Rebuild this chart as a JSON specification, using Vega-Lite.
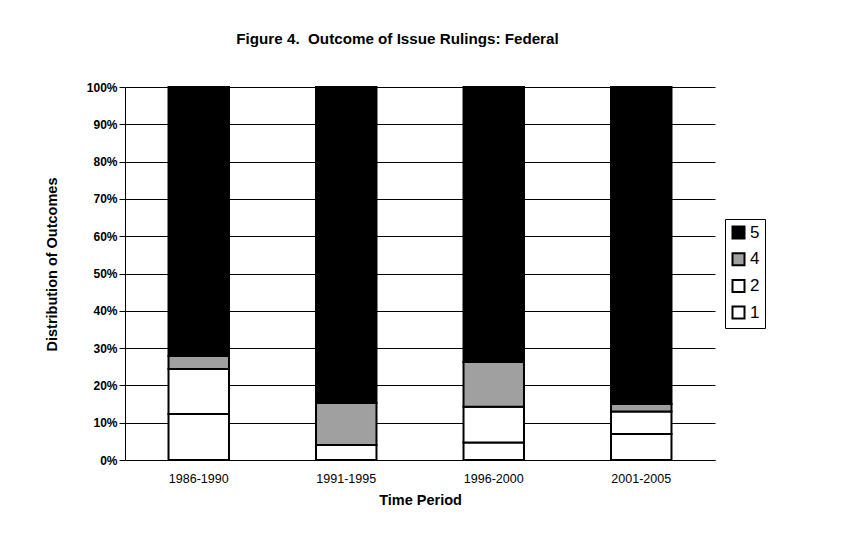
{
  "$schema": "https://vega.github.io/schema/vega-lite/v6.json",
  "width": 590,
  "height": 373,
  "autosize": "none",
  "padding": {"left": 125, "top": 87, "right": 153, "bottom": 74},
  "background": "white",
  "title": {
    "text": "Figure 4.\u00a0 Outcome of Issue Rulings: Federal",
    "anchor": "start",
    "dx": 192,
    "offset": 34,
    "font": "Liberation Sans",
    "fontSize": 15.2,
    "fontWeight": "bold",
    "color": "black"
  },
  "config": {
    "view": {"stroke": null},
    "font": "Liberation Sans"
  },
  "data": {
    "values": [
      {"period": "1986-1990", "outcome": "1", "value": 12.3},
      {"period": "1986-1990", "outcome": "2", "value": 12.1},
      {"period": "1986-1990", "outcome": "4", "value": 3.5},
      {"period": "1986-1990", "outcome": "5", "value": 72.1},
      {"period": "1991-1995", "outcome": "1", "value": 4.0},
      {"period": "1991-1995", "outcome": "2", "value": 0},
      {"period": "1991-1995", "outcome": "4", "value": 11.3},
      {"period": "1991-1995", "outcome": "5", "value": 84.7},
      {"period": "1996-2000", "outcome": "1", "value": 4.7},
      {"period": "1996-2000", "outcome": "2", "value": 9.6},
      {"period": "1996-2000", "outcome": "4", "value": 12.0},
      {"period": "1996-2000", "outcome": "5", "value": 73.7},
      {"period": "2001-2005", "outcome": "1", "value": 7.0},
      {"period": "2001-2005", "outcome": "2", "value": 6.0},
      {"period": "2001-2005", "outcome": "4", "value": 2.0},
      {"period": "2001-2005", "outcome": "5", "value": 85.0}
    ]
  },
  "mark": {"type": "bar", "stroke": "black", "strokeWidth": 2},
  "encoding": {
    "x": {
      "field": "period",
      "type": "nominal",
      "scale": {"paddingInner": 0.59, "paddingOuter": 0.295},
      "axis": {
        "title": "Time Period",
        "titleFont": "Liberation Sans",
        "titleFontSize": 14.5,
        "titleFontWeight": "bold",
        "titleColor": "black",
        "titlePadding": 9,
        "labelAngle": 0,
        "labelFont": "Liberation Sans",
        "labelFontSize": 12.5,
        "labelColor": "black",
        "labelPadding": 12,
        "ticks": false,
        "domain": true,
        "domainColor": "black"
      }
    },
    "y": {
      "field": "value",
      "type": "quantitative",
      "stack": "zero",
      "scale": {"domain": [0, 100]},
      "axis": {
        "title": "Distribution of Outcomes",
        "titleFont": "Liberation Sans",
        "titleFontSize": 14.5,
        "titleFontWeight": "bold",
        "titleColor": "black",
        "titlePadding": 27,
        "titleY": 177,
        "values": [0, 10, 20, 30, 40, 50, 60, 70, 80, 90, 100],
        "labelExpr": "datum.value + '%'",
        "labelFont": "Liberation Sans",
        "labelFontSize": 12,
        "labelFontWeight": "bold",
        "labelColor": "black",
        "labelPadding": 2,
        "tickColor": "black",
        "tickSize": 6,
        "domainColor": "black",
        "grid": true,
        "gridColor": "black",
        "gridOpacity": 1,
        "gridWidth": 1
      }
    },
    "color": {
      "field": "outcome",
      "type": "nominal",
      "scale": {"domain": ["5", "4", "2", "1"], "range": ["black", "#a0a0a0", "white", "white"]},
      "legend": {
        "title": null,
        "orient": "none",
        "legendX": 600,
        "legendY": 132,
        "symbolType": "square",
        "symbolSize": 144,
        "symbolStrokeColor": "black",
        "symbolStrokeWidth": 2,
        "labelFont": "Liberation Sans",
        "labelFontSize": 17,
        "labelColor": "black",
        "labelOffset": 3,
        "rowPadding": 5.7,
        "padding": 5,
        "strokeColor": "black"
      }
    },
    "order": {"field": "outcome", "type": "nominal", "sort": "ascending"}
  }
}
